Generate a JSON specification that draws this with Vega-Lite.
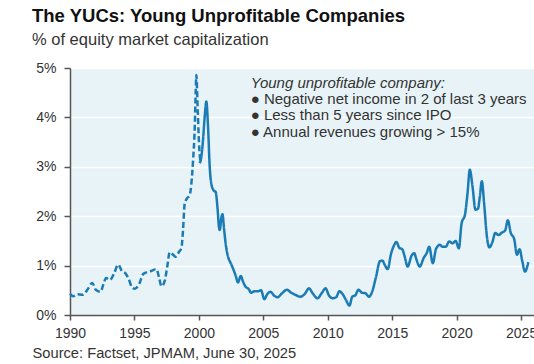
{
  "$schema": "https://vega.github.io/schema/vega-lite/v6.json",
  "width": 464,
  "height": 247,
  "autosize": "none",
  "padding": {"left": 70, "top": 68, "right": 0, "bottom": 49},
  "background": "white",
  "config": {
    "font": "Liberation Sans",
    "view": {"fill": "#e8f3f8", "stroke": null},
    "axis": {"labelFont": "Liberation Sans", "titleFont": "Liberation Sans"}
  },
  "title": {
    "text": "The YUCs: Young Unprofitable Companies",
    "subtitle": "% of equity market capitalization",
    "anchor": "start",
    "frame": "group",
    "dx": -38,
    "offset": 13,
    "font": "Liberation Sans",
    "fontSize": 18.5,
    "fontWeight": "bold",
    "color": "#111111",
    "subtitleFont": "Liberation Sans",
    "subtitleFontSize": 16.5,
    "subtitleColor": "#333333",
    "subtitlePadding": 6
  },
  "layer": [
    {
      "data": {
        "values": [
          {"year": 1990.0, "value": 0.43, "series": "dashed"},
          {"year": 1990.25, "value": 0.38, "series": "dashed"},
          {"year": 1990.55, "value": 0.42, "series": "dashed"},
          {"year": 1991.0, "value": 0.41, "series": "dashed"},
          {"year": 1991.4, "value": 0.53, "series": "dashed"},
          {"year": 1991.73, "value": 0.65, "series": "dashed"},
          {"year": 1992.0, "value": 0.51, "series": "dashed"},
          {"year": 1992.37, "value": 0.47, "series": "dashed"},
          {"year": 1992.6, "value": 0.63, "series": "dashed"},
          {"year": 1992.8, "value": 0.75, "series": "dashed"},
          {"year": 1993.1, "value": 0.71, "series": "dashed"},
          {"year": 1993.43, "value": 0.85, "series": "dashed"},
          {"year": 1993.74, "value": 1.02, "series": "dashed"},
          {"year": 1994.0, "value": 0.9, "series": "dashed"},
          {"year": 1994.34, "value": 0.83, "series": "dashed"},
          {"year": 1994.6, "value": 0.7, "series": "dashed"},
          {"year": 1994.78, "value": 0.57, "series": "dashed"},
          {"year": 1995.03, "value": 0.53, "series": "dashed"},
          {"year": 1995.37, "value": 0.63, "series": "dashed"},
          {"year": 1995.68, "value": 0.83, "series": "dashed"},
          {"year": 1996.0, "value": 0.87, "series": "dashed"},
          {"year": 1996.3, "value": 0.89, "series": "dashed"},
          {"year": 1996.7, "value": 0.93, "series": "dashed"},
          {"year": 1996.9, "value": 0.77, "series": "dashed"},
          {"year": 1997.1, "value": 0.58, "series": "dashed"},
          {"year": 1997.36, "value": 0.7, "series": "dashed"},
          {"year": 1997.54, "value": 0.97, "series": "dashed"},
          {"year": 1997.74, "value": 1.27, "series": "dashed"},
          {"year": 1998.0, "value": 1.22, "series": "dashed"},
          {"year": 1998.2, "value": 1.18, "series": "dashed"},
          {"year": 1998.46, "value": 1.28, "series": "dashed"},
          {"year": 1998.64, "value": 1.35, "series": "dashed"},
          {"year": 1998.77, "value": 1.72, "series": "dashed"},
          {"year": 1998.9, "value": 2.26, "series": "dashed"},
          {"year": 1999.08, "value": 2.36, "series": "dashed"},
          {"year": 1999.29, "value": 2.43, "series": "dashed"},
          {"year": 1999.42, "value": 2.67, "series": "dashed"},
          {"year": 1999.55, "value": 3.14, "series": "dashed"},
          {"year": 1999.68, "value": 3.81, "series": "dashed"},
          {"year": 1999.75, "value": 4.49, "series": "dashed"},
          {"year": 1999.8, "value": 4.86, "series": "dashed"},
          {"year": 1999.91, "value": 4.15, "series": "dashed"},
          {"year": 2000.01, "value": 3.47, "series": "dashed"},
          {"year": 2000.12, "value": 3.1, "series": "dashed"},
          {"year": 2000.06, "value": 3.07, "series": "solid"},
          {"year": 2000.19, "value": 3.2, "series": "solid"},
          {"year": 2000.32, "value": 3.54, "series": "solid"},
          {"year": 2000.45, "value": 4.01, "series": "solid"},
          {"year": 2000.58, "value": 4.32, "series": "solid"},
          {"year": 2000.71, "value": 3.81, "series": "solid"},
          {"year": 2000.84, "value": 3.0, "series": "solid"},
          {"year": 2000.97, "value": 2.65, "series": "solid"},
          {"year": 2001.15, "value": 2.52, "series": "solid"},
          {"year": 2001.3, "value": 2.49, "series": "solid"},
          {"year": 2001.45, "value": 2.15, "series": "solid"},
          {"year": 2001.55, "value": 1.8, "series": "solid"},
          {"year": 2001.62, "value": 1.72, "series": "solid"},
          {"year": 2001.75, "value": 1.98, "series": "solid"},
          {"year": 2001.83, "value": 2.04, "series": "solid"},
          {"year": 2001.95, "value": 1.75, "series": "solid"},
          {"year": 2002.1, "value": 1.4, "series": "solid"},
          {"year": 2002.3, "value": 1.15, "series": "solid"},
          {"year": 2002.45, "value": 1.06, "series": "solid"},
          {"year": 2002.65, "value": 0.94, "series": "solid"},
          {"year": 2002.85, "value": 0.8, "series": "solid"},
          {"year": 2003.03, "value": 0.66, "series": "solid"},
          {"year": 2003.25, "value": 0.79, "series": "solid"},
          {"year": 2003.42, "value": 0.68, "series": "solid"},
          {"year": 2003.63, "value": 0.57, "series": "solid"},
          {"year": 2003.85, "value": 0.53, "series": "solid"},
          {"year": 2004.05, "value": 0.45, "series": "solid"},
          {"year": 2004.3, "value": 0.48, "series": "solid"},
          {"year": 2004.55, "value": 0.48, "series": "solid"},
          {"year": 2004.82, "value": 0.5, "series": "solid"},
          {"year": 2005.08, "value": 0.32, "series": "solid"},
          {"year": 2005.3, "value": 0.42, "series": "solid"},
          {"year": 2005.55, "value": 0.47, "series": "solid"},
          {"year": 2005.85, "value": 0.39, "series": "solid"},
          {"year": 2006.1, "value": 0.36, "series": "solid"},
          {"year": 2006.45, "value": 0.44, "series": "solid"},
          {"year": 2006.83, "value": 0.51, "series": "solid"},
          {"year": 2007.17, "value": 0.45, "series": "solid"},
          {"year": 2007.55, "value": 0.4, "series": "solid"},
          {"year": 2007.85, "value": 0.37, "series": "solid"},
          {"year": 2008.2, "value": 0.42, "series": "solid"},
          {"year": 2008.54, "value": 0.54, "series": "solid"},
          {"year": 2008.85, "value": 0.43, "series": "solid"},
          {"year": 2009.2, "value": 0.34, "series": "solid"},
          {"year": 2009.55, "value": 0.45, "series": "solid"},
          {"year": 2009.83, "value": 0.54, "series": "solid"},
          {"year": 2010.08, "value": 0.4, "series": "solid"},
          {"year": 2010.39, "value": 0.34, "series": "solid"},
          {"year": 2010.65, "value": 0.36, "series": "solid"},
          {"year": 2010.9, "value": 0.48, "series": "solid"},
          {"year": 2011.16, "value": 0.42, "series": "solid"},
          {"year": 2011.42, "value": 0.3, "series": "solid"},
          {"year": 2011.68, "value": 0.19, "series": "solid"},
          {"year": 2011.9, "value": 0.37, "series": "solid"},
          {"year": 2012.14, "value": 0.4, "series": "solid"},
          {"year": 2012.38, "value": 0.51, "series": "solid"},
          {"year": 2012.66, "value": 0.45, "series": "solid"},
          {"year": 2012.92, "value": 0.44, "series": "solid"},
          {"year": 2013.2, "value": 0.37, "series": "solid"},
          {"year": 2013.49, "value": 0.51, "series": "solid"},
          {"year": 2013.75, "value": 0.78, "series": "solid"},
          {"year": 2014.05, "value": 1.09, "series": "solid"},
          {"year": 2014.25, "value": 1.1, "series": "solid"},
          {"year": 2014.39, "value": 1.03, "series": "solid"},
          {"year": 2014.65, "value": 0.93, "series": "solid"},
          {"year": 2014.9, "value": 1.23, "series": "solid"},
          {"year": 2015.16, "value": 1.42, "series": "solid"},
          {"year": 2015.32, "value": 1.48, "series": "solid"},
          {"year": 2015.55, "value": 1.36, "series": "solid"},
          {"year": 2015.78, "value": 1.33, "series": "solid"},
          {"year": 2015.94, "value": 1.21, "series": "solid"},
          {"year": 2016.2, "value": 0.98, "series": "solid"},
          {"year": 2016.5, "value": 1.2, "series": "solid"},
          {"year": 2016.71, "value": 1.25, "series": "solid"},
          {"year": 2016.87, "value": 1.13, "series": "solid"},
          {"year": 2017.13, "value": 0.98, "series": "solid"},
          {"year": 2017.45, "value": 1.16, "series": "solid"},
          {"year": 2017.67, "value": 1.25, "series": "solid"},
          {"year": 2017.87, "value": 1.38, "series": "solid"},
          {"year": 2018.15, "value": 1.05, "series": "solid"},
          {"year": 2018.4, "value": 1.34, "series": "solid"},
          {"year": 2018.7, "value": 1.42, "series": "solid"},
          {"year": 2018.9, "value": 1.38, "series": "solid"},
          {"year": 2019.15, "value": 1.38, "series": "solid"},
          {"year": 2019.42, "value": 1.49, "series": "solid"},
          {"year": 2019.68, "value": 1.45, "series": "solid"},
          {"year": 2019.92, "value": 1.5, "series": "solid"},
          {"year": 2020.17, "value": 1.35, "series": "solid"},
          {"year": 2020.38, "value": 1.85, "series": "solid"},
          {"year": 2020.65, "value": 2.04, "series": "solid"},
          {"year": 2020.84, "value": 2.46, "series": "solid"},
          {"year": 2021.02, "value": 2.94, "series": "solid"},
          {"year": 2021.23, "value": 2.6, "series": "solid"},
          {"year": 2021.46, "value": 2.13, "series": "solid"},
          {"year": 2021.65, "value": 2.15, "series": "solid"},
          {"year": 2021.8, "value": 2.4, "series": "solid"},
          {"year": 2021.95, "value": 2.71, "series": "solid"},
          {"year": 2022.13, "value": 2.26, "series": "solid"},
          {"year": 2022.34, "value": 1.6, "series": "solid"},
          {"year": 2022.54, "value": 1.37, "series": "solid"},
          {"year": 2022.78, "value": 1.48, "series": "solid"},
          {"year": 2022.99, "value": 1.66, "series": "solid"},
          {"year": 2023.24, "value": 1.62, "series": "solid"},
          {"year": 2023.52, "value": 1.67, "series": "solid"},
          {"year": 2023.76, "value": 1.71, "series": "solid"},
          {"year": 2023.97, "value": 1.92, "series": "solid"},
          {"year": 2024.2, "value": 1.66, "series": "solid"},
          {"year": 2024.46, "value": 1.54, "series": "solid"},
          {"year": 2024.68, "value": 1.22, "series": "solid"},
          {"year": 2024.88, "value": 1.33, "series": "solid"},
          {"year": 2025.1, "value": 1.08, "series": "solid"},
          {"year": 2025.3, "value": 0.88, "series": "solid"},
          {"year": 2025.56, "value": 1.07, "series": "solid"}
        ]
      },
      "mark": {"type": "line", "color": "#1b7bb5", "strokeWidth": 2.5, "interpolate": "monotone"},
      "encoding": {
        "x": {
          "field": "year",
          "type": "quantitative",
          "scale": {"domain": [1990, 2026], "nice": false},
          "axis": {
            "values": [1990, 1995, 2000, 2005, 2010, 2015, 2020, 2025],
            "format": "d",
            "grid": false,
            "labelFontSize": 14,
            "labelColor": "#333333",
            "labelPadding": 6,
            "labelFlush": false,
            "labelOverlap": false,
            "tickSize": 5,
            "tickColor": "#555555",
            "tickWidth": 1.5,
            "domainColor": "#555555",
            "domainWidth": 1.5,
            "title": "Source: Factset, JPMAM, June 30, 2025",
            "titleFontSize": 14.7,
            "titleFontWeight": "normal",
            "titleColor": "#333333",
            "titleAlign": "left",
            "titleAnchor": "start",
            "titleBaseline": "alphabetic",
            "titleX": -38,
            "titleY": 42
          }
        },
        "y": {
          "field": "value",
          "type": "quantitative",
          "scale": {"domain": [0, 5], "nice": false},
          "axis": {
            "values": [0, 1, 2, 3, 4, 5],
            "labelExpr": "datum.value + '%'",
            "grid": true,
            "gridColor": "#ffffff",
            "gridWidth": 1.5,
            "labelFontSize": 14,
            "labelColor": "#333333",
            "labelPadding": 8,
            "tickSize": 6,
            "tickColor": "#555555",
            "tickWidth": 1.5,
            "domainColor": "#555555",
            "domainWidth": 1.5,
            "title": null
          }
        },
        "strokeDash": {
          "field": "series",
          "type": "nominal",
          "scale": {"domain": ["dashed", "solid"], "range": [[6, 3], [1, 0]]},
          "legend": null
        }
      }
    },
    {
      "data": {"values": [{}]},
      "mark": {"type": "text", "align": "left", "baseline": "alphabetic", "font": "Liberation Sans", "fontSize": 15, "fontStyle": "italic", "color": "#333333"},
      "encoding": {
        "x": {"datum": 2004.02, "type": "quantitative"},
        "y": {"datum": 4.595, "type": "quantitative"},
        "text": {"value": "Young unprofitable company:"}
      }
    },
    {
      "data": {"values": [{}]},
      "mark": {"type": "text", "align": "left", "baseline": "alphabetic", "font": "Liberation Sans", "fontSize": 15, "lineHeight": 16.3, "color": "#333333"},
      "encoding": {
        "x": {"datum": 2004.02, "type": "quantitative"},
        "y": {"datum": 4.27, "type": "quantitative"},
        "text": {"value": ["● Negative net income in 2 of last 3 years", "● Less than 5 years since IPO", "● Annual revenues growing > 15%"]}
      }
    }
  ]
}
